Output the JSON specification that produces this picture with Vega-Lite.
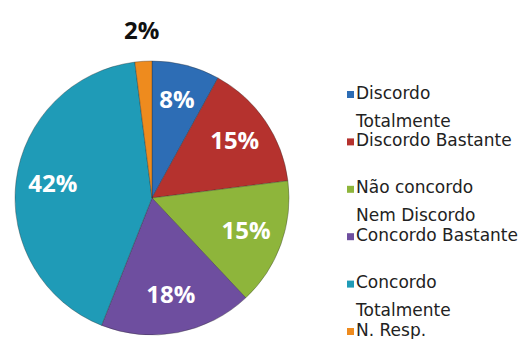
{
  "$schema": "https://vega.github.io/schema/vega-lite/v6.json",
  "autosize": {"type": "none"},
  "width": 274,
  "height": 274,
  "padding": {"left": 15, "top": 61, "right": 243, "bottom": 4},
  "background": "white",
  "data": {
    "values": [
      {"cat": "Discordo Totalmente", "pct": 0.08, "ord": 1},
      {"cat": "Discordo Bastante", "pct": 0.15, "ord": 2},
      {"cat": "Não concordo Nem Discordo", "pct": 0.15, "ord": 3},
      {"cat": "Concordo Bastante", "pct": 0.18, "ord": 4},
      {"cat": "Concordo Totalmente", "pct": 0.42, "ord": 5},
      {"cat": "N. Resp.", "pct": 0.02, "ord": 6}
    ]
  },
  "encoding": {
    "theta": {"field": "pct", "type": "quantitative", "stack": true},
    "order": {"field": "ord", "type": "quantitative"},
    "detail": {"field": "cat", "type": "nominal"}
  },
  "layer": [
    {
      "mark": {"type": "arc", "outerRadius": 137, "stroke": "#2a2a2a", "strokeOpacity": 0.35, "strokeWidth": 1},
      "encoding": {
        "color": {
          "field": "cat",
          "type": "nominal",
          "sort": null,
          "scale": {
            "domain": ["Discordo Totalmente", "Discordo Bastante", "Não concordo Nem Discordo", "Concordo Bastante", "Concordo Totalmente", "N. Resp."],
            "range": ["#2D6DB5", "#B5322E", "#8EB53B", "#6E4E9F", "#1F9BB7", "#EE8B1E"]
          },
          "legend": {
            "title": null,
            "orient": "none",
            "legendX": 327,
            "legendY": 25,
            "symbolType": "square",
            "symbolSize": 49,
            "symbolStrokeWidth": 0,
            "labelFont": "DejaVu Sans",
            "labelFontSize": 17,
            "labelColor": "#222222",
            "labelOffset": 1,
            "labelLimit": 0,
            "labelBaseline": "top",
            "rowPadding": 1.4,
            "labelExpr": "datum.label == 'Discordo Totalmente' ? ['Discordo', 'Totalmente'] : datum.label == 'Não concordo Nem Discordo' ? ['Não concordo', 'Nem Discordo'] : datum.label == 'Concordo Totalmente' ? ['Concordo', 'Totalmente'] : [datum.label, '']",
            "encoding": {"labels": {"lineHeight": {"value": 28}, "dy": {"value": -9}, "dx": {"value": -4}}}
          }
        }
      }
    },
    {
      "mark": {"type": "text", "radius": 100, "font": "Open Sans", "fontWeight": "bold", "fontSize": 24, "color": "white"},
      "encoding": {
        "text": {"condition": {"test": "datum.cat !== 'N. Resp.'", "field": "pct", "type": "quantitative", "format": ".0%"}, "value": ""}
      }
    },
    {
      "mark": {"type": "text", "radius": 166, "font": "Open Sans", "fontWeight": "bold", "fontSize": 24, "color": "#111111"},
      "encoding": {
        "text": {"condition": {"test": "datum.cat === 'N. Resp.'", "field": "pct", "type": "quantitative", "format": ".0%"}, "value": ""}
      }
    }
  ]
}
